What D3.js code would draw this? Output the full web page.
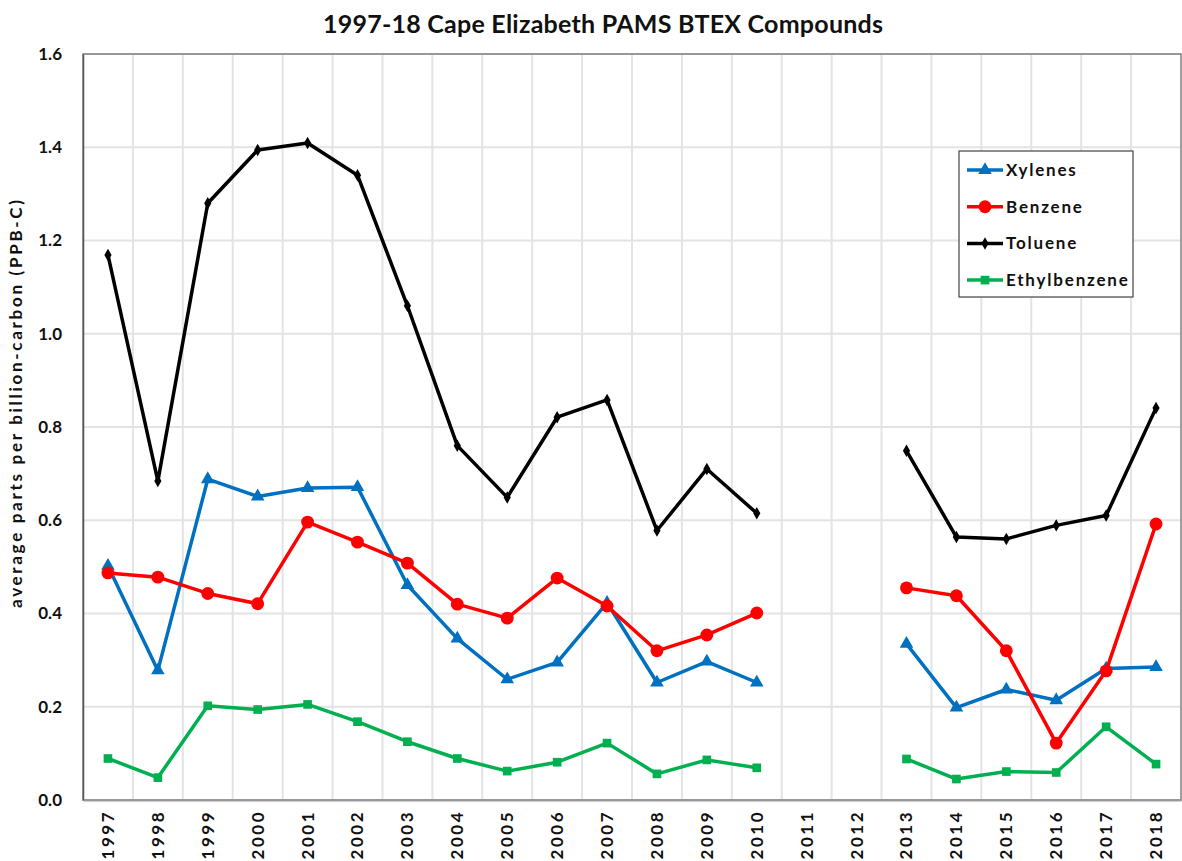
<!DOCTYPE html>
<html>
<head>
<meta charset="utf-8">
<script src="https://cdn.jsdelivr.net/npm/d3@7"></script>
<style>
  body { margin: 0; background: #fff; }
  text { font-family: Lato, "Open Sans", sans-serif; font-weight: bold; fill: #111; }
</style>
</head>
<body>
<div id="chart"></div>
<script>
var years = ["1997","1998","1999","2000","2001","2002","2003","2004","2005","2006","2007",
	"2008","2009","2010","2011","2012","2013","2014","2015","2016","2017","2018"];

// null = no sample that year
var xylenes = [0.502,0.278,0.688,0.651,0.669,0.671,0.461,0.346,0.259,0.295,0.423,
	0.252,0.297,0.252,null,null,0.335,0.198,0.237,0.214,0.282,0.285];
var benzene = [0.487,0.478,0.443,0.421,0.596,0.553,0.508,0.420,0.390,0.476,0.416,
	0.320,0.354,0.401,null,null,0.455,0.438,0.320,0.122,0.277,0.592];
var toluene = [1.169,0.684,1.280,1.394,1.409,1.340,1.060,0.760,0.649,0.821,0.858,
	0.578,0.710,0.615,null,null,0.749,0.564,0.560,0.589,0.610,0.841];
var ethylbenzene = [0.089,0.048,0.202,0.194,0.205,0.168,0.125,0.089,0.062,0.081,0.122,
	0.056,0.086,0.069,null,null,0.088,0.045,0.061,0.059,0.157,0.077];

var yTicks = [0, 0.2, 0.4, 0.6, 0.8, 1.0, 1.2, 1.4, 1.6];

var series = [
	{name: "Xylenes", values: xylenes, color: "#0070C0", symbol: d3.symbolTriangle, size: 80},
	{name: "Benzene", values: benzene, color: "#FF0000", symbol: d3.symbolCircle, size: 130},
	{name: "Toluene", values: toluene, color: "#000000", symbol: d3.symbolDiamond, size: 45},
	{name: "Ethylbenzene", values: ethylbenzene, color: "#00B050", symbol: d3.symbolSquare, size: 75}
];

var width = 1182, height = 861;
var margin = {top: 54, right: 1, bottom: 61, left: 83};

var svg = d3.select("#chart").append("svg")
	.attr("width", width)
	.attr("height", height);

var x = d3.scaleBand()
	.domain(years)
	.range([margin.left, width - margin.right]);

var y = d3.scaleLinear()
	.domain([0, 1.6])
	.range([height - margin.bottom, margin.top]);

// gridlines
svg.append("g").selectAll("line.h")
	.data(yTicks)
	.enter().append("line")
	.attr("x1", margin.left).attr("x2", width - margin.right)
	.attr("y1", function(d) { return y(d); })
	.attr("y2", function(d) { return y(d); })
	.style("stroke", "#e3e3e3").style("stroke-width", 2);

svg.append("g").selectAll("line.v")
	.data(years.slice(1))
	.enter().append("line")
	.attr("x1", function(d) { return x(d); })
	.attr("x2", function(d) { return x(d); })
	.attr("y1", margin.top).attr("y2", height - margin.bottom)
	.style("stroke", "#e3e3e3").style("stroke-width", 2);

// plot border
svg.append("rect")
	.attr("x", margin.left).attr("y", margin.top)
	.attr("width", width - margin.right - margin.left)
	.attr("height", height - margin.bottom - margin.top)
	.style("fill", "none").style("stroke", "#808080").style("stroke-width", 1.5);

// axes
var yAxis = svg.append("g")
	.attr("transform", "translate(" + margin.left + ",0)")
	.call(d3.axisLeft(y).tickValues(yTicks).tickFormat(d3.format(".1f")).tickSize(0).tickPadding(21));
yAxis.select(".domain").style("stroke", "#555").style("stroke-width", 1.5);
yAxis.selectAll("text").style("font-size", "17px");

var xAxis = svg.append("g")
	.attr("transform", "translate(0," + (height - margin.bottom) + ")")
	.call(d3.axisBottom(x).tickSize(0));
xAxis.select(".domain").style("stroke", "#999").style("stroke-width", 2);
xAxis.selectAll("text")
	.style("font-size", "17px")
	.style("letter-spacing", "2.5px")
	.attr("text-anchor", "end")
	.attr("transform", "rotate(-90)")
	.attr("x", -10).attr("y", 0).attr("dy", "0.35em");

// lines + markers
var line = d3.line()
	.defined(function(d) { return d !== null; })
	.x(function(d, i) { return x(years[i]) + x.bandwidth() / 2; })
	.y(function(d) { return y(d); });

series.forEach(function(s) {
	svg.append("path")
		.datum(s.values)
		.attr("d", line)
		.style("fill", "none")
		.style("stroke", s.color)
		.style("stroke-width", 3.5)
		.style("stroke-linejoin", "round");

	svg.append("g").selectAll("path")
		.data(s.values.map(function(v, i) { return {v: v, year: years[i]}; })
			.filter(function(d) { return d.v !== null; }))
		.enter().append("path")
		.attr("d", d3.symbol().type(s.symbol).size(s.size))
		.attr("transform", function(d) {
			return "translate(" + (x(d.year) + x.bandwidth() / 2) + "," + y(d.v) + ")";
		})
		.style("fill", s.color);
});

// title
svg.append("text")
	.attr("x", 603).attr("y", 33)
	.attr("text-anchor", "middle")
	.attr("textLength", 560)
	.attr("lengthAdjust", "spacing")
	.style("font-size", "25px")
	.text("1997-18 Cape Elizabeth PAMS BTEX Compounds");

// y axis title
svg.append("text")
	.attr("transform", "translate(22,404) rotate(-90)")
	.attr("text-anchor", "middle")
	.attr("textLength", 408)
	.attr("lengthAdjust", "spacing")
	.style("font-size", "17px")
	.text("average parts per billion-carbon (PPB-C)");

// legend
var legend = svg.append("g");
legend.append("rect")
	.attr("x", 959).attr("y", 151)
	.attr("width", 174).attr("height", 146)
	.style("fill", "#fff").style("stroke", "#444").style("stroke-width", 1.2);

var item = legend.selectAll("g.item")
	.data(series)
	.enter().append("g")
	.attr("transform", function(d, i) { return "translate(967," + (170 + i * 36.7) + ")"; });
item.append("line")
	.attr("x1", 0).attr("x2", 36)
	.style("stroke", function(d) { return d.color; })
	.style("stroke-width", 3.5);
item.append("path")
	.attr("d", function(d) { return d3.symbol().type(d.symbol).size(d.size)(); })
	.attr("transform", "translate(18,0)")
	.style("fill", function(d) { return d.color; });
item.append("text")
	.attr("x", 39).attr("dy", "0.35em")
	.style("font-size", "17px")
	.style("letter-spacing", "1.8px")
	.text(function(d) { return d.name; });
</script>
</body>
</html>
